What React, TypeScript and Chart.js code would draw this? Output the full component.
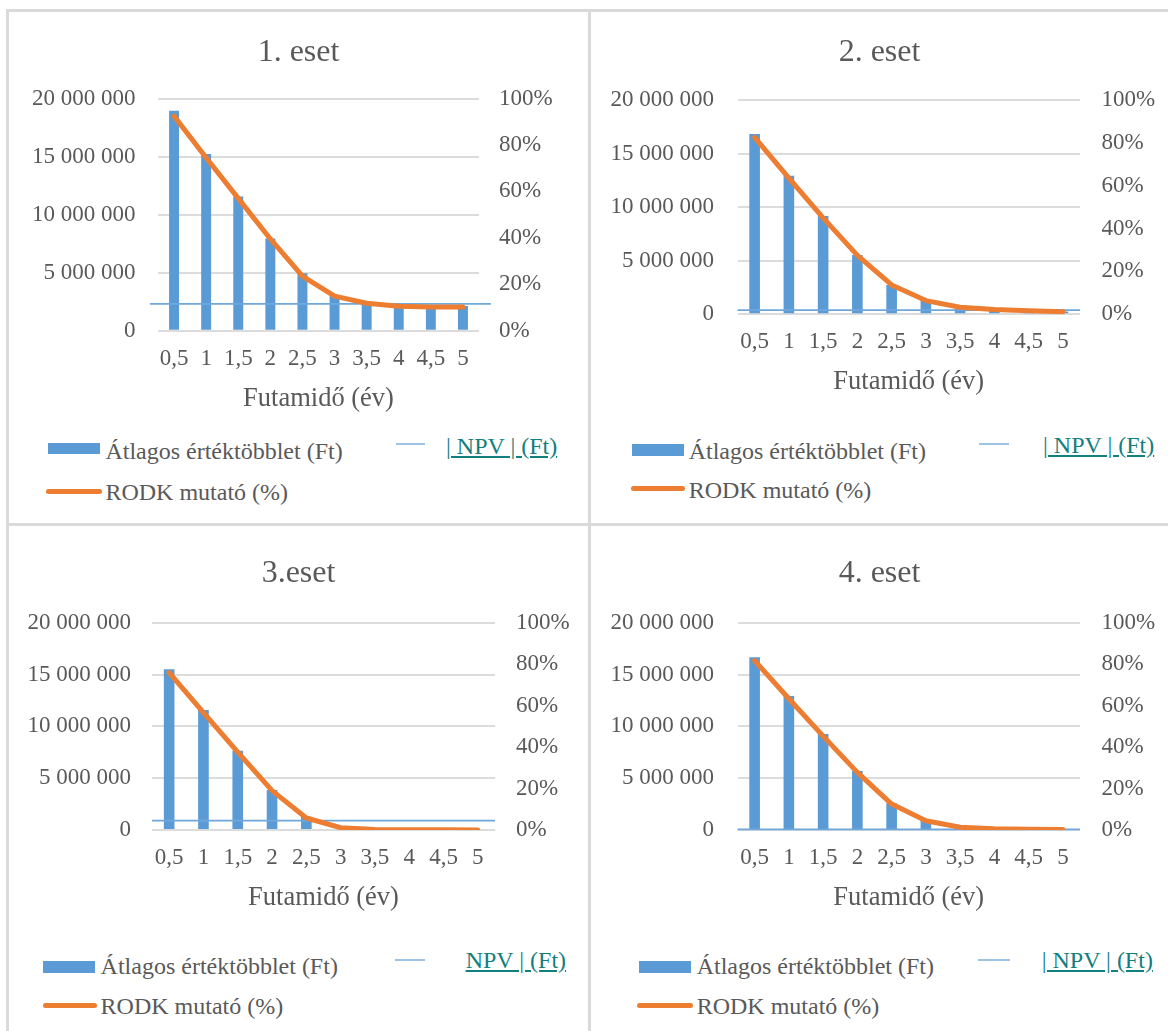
import React, { useEffect, useRef } from 'react';
import { Chart, registerables } from 'chart.js';

Chart.register(...registerables);

// ---------- data ----------
const CATEGORIES = ['0,5', '1', '1,5', '2', '2,5', '3', '3,5', '4', '4,5', '5'];
const LEFT_TICKS = ['0', '5 000 000', '10 000 000', '15 000 000', '20 000 000'];
const RIGHT_TICKS = ['0%', '20%', '40%', '60%', '80%', '100%'];
const X_TITLE = 'Futamidő (év)';
const LEGEND_BAR = 'Átlagos értéktöbblet (Ft)';
const LEGEND_LINE = 'RODK mutató (%)';

const CASE1_TITLE = '1. eset';
const CASE1_BARS = [18940000, 15210000, 11560000, 7950000, 4940000, 3070000, 2250000, 2100000, 2100000, 2130000];
const CASE1_RODK = [92.4, 74.5, 57.0, 39.5, 23.5, 14.9, 11.8, 10.5, 10.2, 10.2];
const CASE1_NPV = 2320000;
const CASE1_NPV_LABEL = '| NPV | (Ft)';

const CASE2_TITLE = '2. eset';
const CASE2_BARS = [16830000, 12940000, 9180000, 5540000, 2740000, 1340000, 620000, 310000, 250000, 250000];
const CASE2_RODK = [82.6, 63.5, 45.0, 27.5, 13.7, 6.4, 3.3, 2.2, 1.6, 1.2];
const CASE2_NPV = 400000;
const CASE2_NPV_LABEL = '| NPV | (Ft)';

const CASE3_TITLE = '3.eset';
const CASE3_BARS = [15520000, 11570000, 7650000, 3860000, 1290000, 0, 0, 0, 0, 0];
const CASE3_RODK = [75.9, 56.6, 37.6, 19.0, 5.8, 1.1, 0.3, 0.15, 0.1, 0.05];
const CASE3_NPV = 900000;
const CASE3_NPV_LABEL = 'NPV | (Ft)';

const CASE4_TITLE = '4. eset';
const CASE4_BARS = [16660000, 12930000, 9260000, 5690000, 2570000, 960000, 200000, 80000, 50000, 30000];
const CASE4_RODK = [81.7, 63.3, 45.3, 27.8, 12.5, 4.5, 1.3, 0.6, 0.35, 0.2];
const CASE4_NPV = 50000;
const CASE4_NPV_LABEL = '| NPV | (Ft)';

// ---------- styles ----------
const FONT = "'Liberation Serif', 'Times New Roman', serif";
const TEXT = '#595959';
const BLUE = '#5b9bd5';
const ORANGE = '#ed7d31';
const NPV_COLOR = '#6fa7dc';
const NPV_SWATCH = '#9dc3e6';
const TEAL = '#12807e';
const GRID = '#dcdcdc';
const BORDER = '#dadada';
const LEGEND_FS = 24;

type LegendLayout = {
  rectX: number; rectW: number; rectY: number; rectH: number;
  textX: number; barTextY: number;
  npvSwX: number; npvSwW: number; npvSwY: number;
  npvTextX: number; npvTextY: number;
  lineSwX: number; lineSwW: number; lineY: number; lineTextY: number;
};

type PanelLayout = {
  left: number; top: number; width: number; height: number;
  leftW: number; rightW: number; leftPad: number; rightPad: number;
  titleTop: number; titleBottom: number; xH: number;
  npvSpan: [number, number];
  legend: LegendLayout;
};

type PanelData = {
  title: string; bars: number[]; rodk: number[]; npv: number; npvLabel: string;
};

const LAYOUT1: PanelLayout = {
  left: 9, top: 12, width: 579, height: 403,
  leftW: 149, rightW: 109, leftPad: 22.5, rightPad: 20,
  titleTop: 21.3, titleBottom: 26.8, xH: 84.3, npvSpan: [-0.025, 1.037],
  legend: {
    rectX: 48, rectW: 52, rectY: 443.3, rectH: 11, textX: 105.4, barTextY: 450.5,
    npvSwX: 396, npvSwW: 29, npvSwY: 444, npvTextX: 446, npvTextY: 445.7,
    lineSwX: 46, lineSwW: 56, lineY: 491.7, lineTextY: 491.7,
  },
};
const LAYOUT2: PanelLayout = {
  left: 591, top: 12, width: 577, height: 386,
  leftW: 146.5, rightW: 88, leftPad: 23.5, rightPad: 21.4,
  titleTop: 21.3, titleBottom: 28.3, xH: 83.7, npvSpan: [0, 1],
  legend: {
    rectX: 631.7, rectW: 52.3, rectY: 444.3, rectH: 11.4, textX: 688.7, barTextY: 451,
    npvSwX: 978.6, npvSwW: 30.7, npvSwY: 444, npvTextX: 1043, npvTextY: 445,
    lineSwX: 630.6, lineSwW: 54.4, lineY: 488.3, lineTextY: 490,
  },
};
const LAYOUT3: PanelLayout = {
  left: 9, top: 526, width: 579, height: 388,
  leftW: 143, rightW: 93, leftPad: 21, rightPad: 21,
  titleTop: 28.8, titleBottom: 29.5, xH: 84, npvSpan: [0, 1],
  legend: {
    rectX: 43.2, rectW: 52.2, rectY: 960.7, rectH: 12, textX: 100.6, barTextY: 966,
    npvSwX: 395, npvSwW: 29.7, npvSwY: 960, npvTextX: 465.7, npvTextY: 959.7,
    lineSwX: 43, lineSwW: 54, lineY: 1005, lineTextY: 1006,
  },
};
const LAYOUT4: PanelLayout = {
  left: 591, top: 526, width: 577, height: 388,
  leftW: 146.5, rightW: 88, leftPad: 23.5, rightPad: 21.4,
  titleTop: 28.8, titleBottom: 29.5, xH: 84, npvSpan: [0, 1],
  legend: {
    rectX: 639.3, rectW: 52.2, rectY: 961, rectH: 12, textX: 696.7, barTextY: 966,
    npvSwX: 978.4, npvSwW: 31.3, npvSwY: 960, npvTextX: 1041.7, npvTextY: 960,
    lineSwX: 637, lineSwW: 56, lineY: 1005, lineTextY: 1006,
  },
};

function CaseChart({ d, l }: { d: PanelData; l: PanelLayout }) {
  const ref = useRef<HTMLCanvasElement | null>(null);
  useEffect(() => {
    const tickFont = { family: FONT, size: 23 };
    const chart = new Chart(ref.current as HTMLCanvasElement, {
      type: 'bar',
      data: {
        labels: CATEGORIES,
        datasets: [
          {
            type: 'line', label: LEGEND_LINE, data: d.rodk, xAxisID: 'x', yAxisID: 'y1',
            borderColor: ORANGE, backgroundColor: ORANGE, borderWidth: 5, pointRadius: 0,
            tension: 0, borderCapStyle: 'round', borderJoinStyle: 'round', fill: false, order: 0,
          },
          {
            type: 'line', label: 'NPV',
            data: [{ x: l.npvSpan[0], y: d.npv }, { x: l.npvSpan[1], y: d.npv }],
            xAxisID: 'xn', yAxisID: 'y', borderColor: NPV_COLOR, borderWidth: 1.75,
            pointRadius: 0, fill: false, clip: false, order: 1,
          },
          {
            type: 'bar', label: LEGEND_BAR, data: d.bars, xAxisID: 'x', yAxisID: 'y',
            backgroundColor: BLUE, barPercentage: 0.31, categoryPercentage: 1, grouped: false, order: 2,
          },
        ],
      } as any,
      options: {
        responsive: false,
        animation: false,
        devicePixelRatio: 1,
        layout: { padding: 0 },
        plugins: {
          legend: { display: false },
          tooltip: { enabled: false },
          title: {
            display: true, text: d.title, color: TEXT,
            font: { family: FONT, size: 32, weight: 'normal' },
            padding: { top: l.titleTop, bottom: l.titleBottom },
          },
        },
        scales: {
          x: {
            type: 'category', offset: true,
            grid: { display: false, drawTicks: false, tickLength: 0 }, border: { display: false },
            ticks: { color: TEXT, font: tickFont, padding: 14, maxRotation: 0, minRotation: 0, autoSkip: false },
            title: { display: true, text: X_TITLE, color: TEXT, font: { family: FONT, size: 26.5 }, padding: { top: 0, bottom: 0 } },
            afterFit: (s: any) => { s.height = l.xH; },
          },
          xn: {
            type: 'linear', axis: 'x', position: 'bottom', display: false, offset: false,
            grid: { offset: false }, min: 0, max: 1,
          },
          y: {
            position: 'left', min: 0, max: 20000000,
            ticks: { stepSize: 5000000, color: TEXT, font: tickFont, padding: l.leftPad, callback: (_v: any, i: number) => LEFT_TICKS[i] },
            grid: { color: GRID, lineWidth: 2, drawTicks: false, tickLength: 0 },
            border: { display: false },
            afterFit: (s: any) => { s.width = l.leftW; },
          },
          y1: {
            position: 'right', min: 0, max: 100,
            ticks: { stepSize: 20, color: TEXT, font: tickFont, padding: l.rightPad, callback: (_v: any, i: number) => RIGHT_TICKS[i] },
            grid: { drawOnChartArea: false, drawTicks: false, tickLength: 0 },
            border: { display: false },
            afterFit: (s: any) => { s.width = l.rightW; },
          },
        },
      } as any,
    });
    return () => chart.destroy();
  }, []);
  return (
    <canvas
      ref={ref}
      width={l.width}
      height={l.height}
      style={{ position: 'absolute', left: l.left, top: l.top, width: l.width, height: l.height }}
    />
  );
}

function textStyle(x: number, cy: number): React.CSSProperties {
  return {
    position: 'absolute', left: x, top: cy - LEGEND_FS / 2, fontSize: LEGEND_FS,
    lineHeight: LEGEND_FS + 'px', fontFamily: FONT, color: TEXT, whiteSpace: 'nowrap',
  };
}

function Legend({ lg, npvLabel }: { lg: LegendLayout; npvLabel: string }) {
  return (
    <>
      <div style={{ position: 'absolute', left: lg.rectX, top: lg.rectY, width: lg.rectW, height: lg.rectH, background: BLUE }} />
      <div style={textStyle(lg.textX, lg.barTextY)}>{LEGEND_BAR}</div>
      <div style={{ position: 'absolute', left: lg.npvSwX, top: lg.npvSwY - 1, width: lg.npvSwW, height: 2, background: NPV_SWATCH }} />
      <div style={{ ...textStyle(lg.npvTextX, lg.npvTextY), color: TEAL, textDecoration: 'underline' }}>{npvLabel}</div>
      <div style={{ position: 'absolute', left: lg.lineSwX, top: lg.lineY - 2.5, width: lg.lineSwW, height: 5, borderRadius: 2.5, background: ORANGE }} />
      <div style={textStyle(lg.textX, lg.lineTextY)}>{LEGEND_LINE}</div>
    </>
  );
}

const PANELS: { d: PanelData; l: PanelLayout }[] = [
  { d: { title: CASE1_TITLE, bars: CASE1_BARS, rodk: CASE1_RODK, npv: CASE1_NPV, npvLabel: CASE1_NPV_LABEL }, l: LAYOUT1 },
  { d: { title: CASE2_TITLE, bars: CASE2_BARS, rodk: CASE2_RODK, npv: CASE2_NPV, npvLabel: CASE2_NPV_LABEL }, l: LAYOUT2 },
  { d: { title: CASE3_TITLE, bars: CASE3_BARS, rodk: CASE3_RODK, npv: CASE3_NPV, npvLabel: CASE3_NPV_LABEL }, l: LAYOUT3 },
  { d: { title: CASE4_TITLE, bars: CASE4_BARS, rodk: CASE4_RODK, npv: CASE4_NPV, npvLabel: CASE4_NPV_LABEL }, l: LAYOUT4 },
];

export default function App() {
  const line = (left: number, top: number, width: number, height: number) => (
    <div style={{ position: 'absolute', left, top, width, height, background: BORDER }} />
  );
  return (
    <div style={{ position: 'absolute', left: 0, top: 0, width: 1168, height: 1031, background: '#fff', overflow: 'hidden' }}>
      {line(6, 9, 1162, 3)}
      {line(6, 9, 3, 1022)}
      {line(588, 9, 3, 1022)}
      {line(6, 523, 1162, 3)}
      {PANELS.map((p, i) => (
        <React.Fragment key={i}>
          <CaseChart d={p.d} l={p.l} />
          <Legend lg={p.l.legend} npvLabel={p.d.npvLabel} />
        </React.Fragment>
      ))}
    </div>
  );
}
